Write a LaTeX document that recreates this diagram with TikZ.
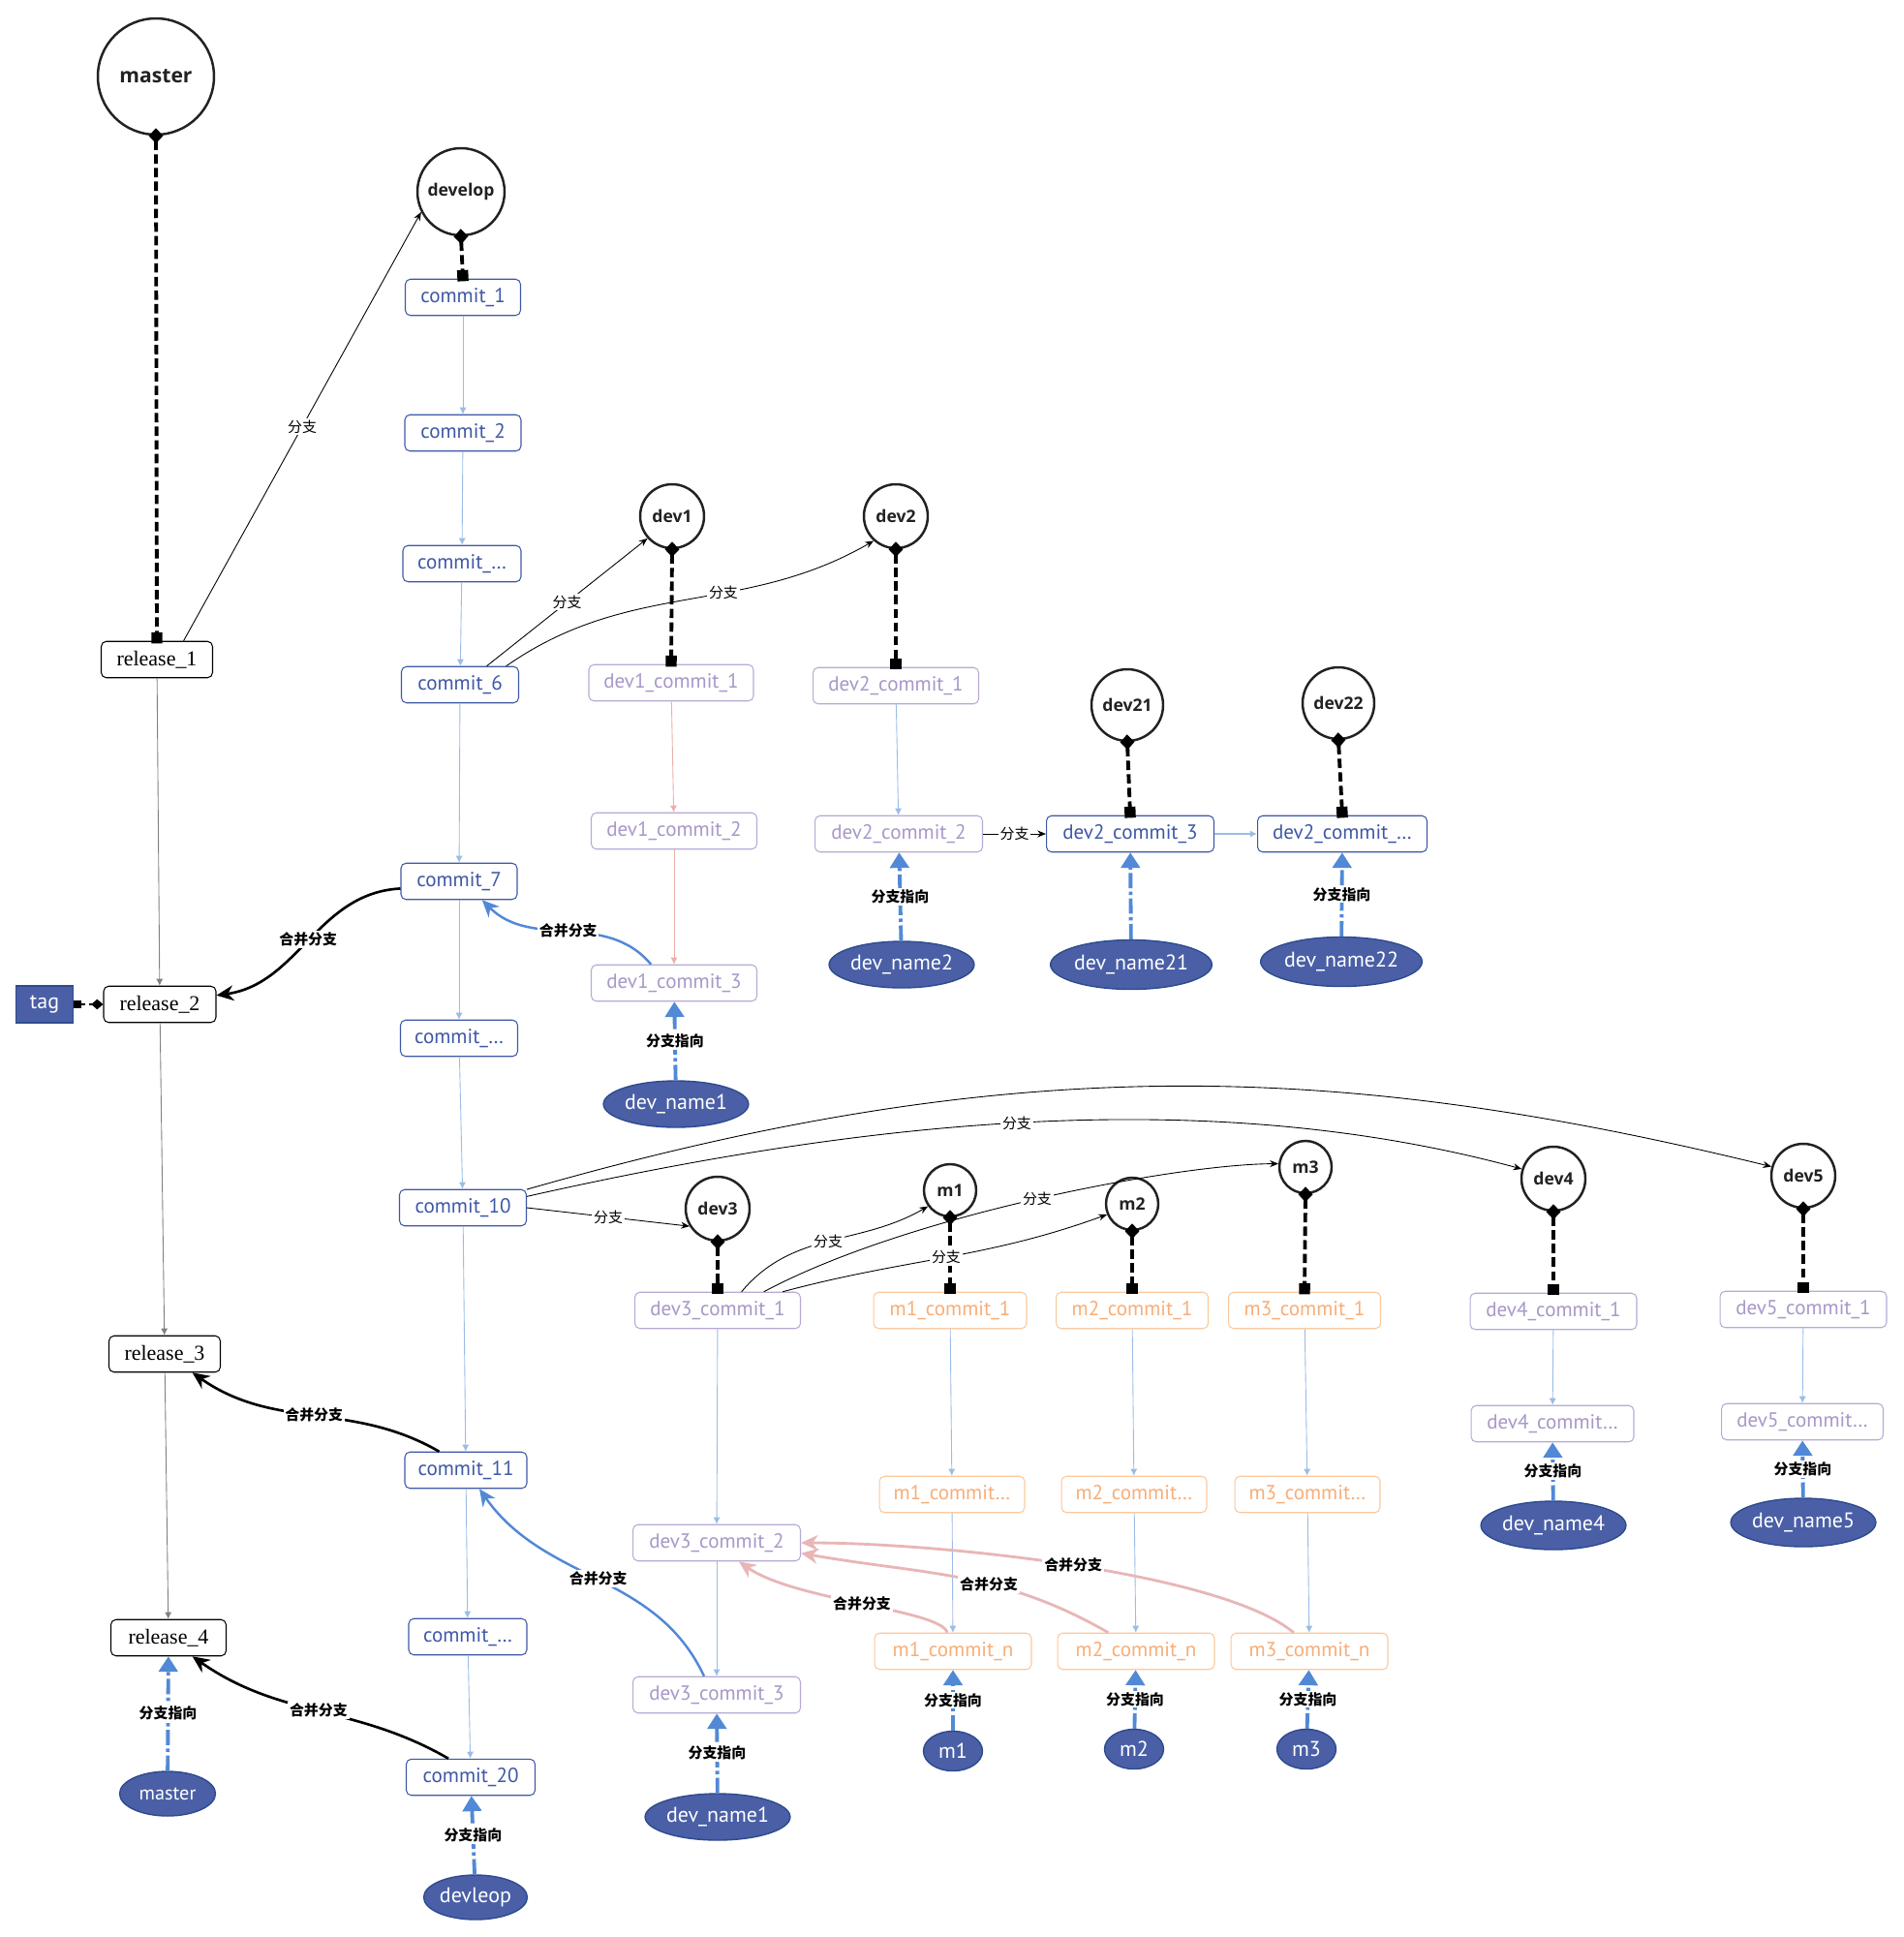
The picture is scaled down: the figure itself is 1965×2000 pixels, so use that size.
\documentclass[tikz,border=0pt]{standalone}
\usepackage{fontspec}
\setmainfont{PT Sans}
\newfontfamily\cjk{Noto Sans CJK SC}
\newfontfamily\circfont{Open Sans}
\newfontfamily\relfont{Liberation Serif}
\usetikzlibrary{arrows.meta,shapes.geometric,calc}
\definecolor{cblue}{HTML}{3F58A6}
\definecolor{lavb}{HTML}{B9A9D6}
\definecolor{lavt}{HTML}{A898C8}
\definecolor{orb}{HTML}{FDC89C}
\definecolor{ort}{HTML}{F7AE78}
\definecolor{navy}{HTML}{4A5FA6}
\definecolor{navyb}{HTML}{2E4B8F}
\definecolor{ptblue}{HTML}{5189D6}
\definecolor{chainb}{HTML}{9ABCE6}
\definecolor{chainp}{HTML}{EBAFA8}
\definecolor{pinkm}{HTML}{E8B6B6}
\definecolor{circ}{HTML}{222222}
\tikzset{
  brc/.style={circle, draw=circ, line width=1.4pt, fill=white, text=circ, inner sep=0pt,
    font=\circfont\bfseries\fontsize{10}{12}\selectfont},
  cbox/.style={rectangle, rounded corners=3pt, draw=cblue, line width=0.6pt, text=cblue, fill=white,
    minimum height=0.75cm, inner sep=0pt, font=\fontsize{12}{14}\selectfont},
  dvbox/.style={cbox, draw=lavb, text=lavt},
  mbox/.style={cbox, draw=orb, text=ort},
  relbox/.style={cbox, draw=black, text=black, font=\relfont\fontsize{12.5}{14}\selectfont},
  nmell/.style={ellipse, fill=navy, draw=navyb, line width=0.8pt, text=white, inner sep=0pt,
    font=\fontsize{12.5}{14}\selectfont},
  ptrk/.style={draw=black, line width=2.2pt, dash pattern=on 5.5pt off 2.5pt,
    {Diamond[length=9pt,width=8.5pt]}-{Square[length=6.5pt,width=6.5pt]}, shorten <=-4.5pt, shorten >=-1.5pt},
  ptrb/.style={draw=ptblue, line width=2.2pt, dash pattern=on 9pt off 2pt on 2pt off 2pt,
    -{Triangle[length=9pt,width=11pt]}},
  chainbl/.style={draw=chainb, line width=0.5pt, -{Latex[length=4pt,width=4pt]}},
  chainpk/.style={draw=chainp, line width=0.5pt, -{Latex[length=4pt,width=4pt]}},
  relc/.style={draw=gray, line width=0.5pt, -{Latex[length=4pt,width=4pt]}},
  thinb/.style={draw=black, line width=0.5pt, -{Stealth[length=5pt,width=4pt]}},
  mergek/.style={draw=black, line width=1.5pt, -{Stealth[length=10pt,width=9pt]}},
  mergeb/.style={draw=ptblue, line width=1.4pt, -{Stealth[length=10pt,width=9pt]}},
  mergep/.style={draw=pinkm, line width=1.6pt, -{Stealth[length=10pt,width=9pt]}},
  lbl/.style={font=\cjk\fontsize{8.5}{10}\selectfont, fill=white, inner sep=1pt, text=black},
  blbl/.style={font=\cjk\bfseries\fontsize{8.5}{10}\selectfont, fill=white, inner sep=1pt, text=black},
}
\begin{document}
\begin{tikzpicture}[x=0.02cm, y=-0.02cm]
\useasboundingbox[fill=white] (0,0) rectangle (1965,2000);

% branch circles
\node[brc, minimum size=2.4cm, font=\circfont\bfseries\fontsize{12}{14}\selectfont] (master) at (161,79) {master};
\node[brc, minimum size=1.8cm] (develop) at (476,198) {develop};
\node[brc, minimum size=1.32cm] (dev1) at (694,533) {dev1};
\node[brc, minimum size=1.32cm] (dev2) at (925,533) {dev2};
\node[brc, minimum size=1.48cm] (dev21) at (1164,728) {dev21};
\node[brc, minimum size=1.48cm] (dev22) at (1382,726) {dev22};
\node[brc, minimum size=1.32cm] (dev3) at (741,1248) {dev3};
\node[brc, minimum size=1.08cm] (m1) at (981,1229) {m1};
\node[brc, minimum size=1.08cm] (m2) at (1169,1243) {m2};
\node[brc, minimum size=1.08cm] (m3) at (1348,1205) {m3};
\node[brc, minimum size=1.32cm] (dev4) at (1604,1217) {dev4};
\node[brc, minimum size=1.32cm] (dev5) at (1862,1214) {dev5};

% release column
\node[relbox, minimum width=2.3cm] (r1) at (162,681) {release\_1};
\node[relbox, minimum width=2.32cm] (r2) at (165,1037) {release\_2};
\node[relbox, minimum width=2.3cm] (r3) at (170,1398) {release\_3};
\node[relbox, minimum width=2.38cm] (r4) at (174,1691) {release\_4};
\node[rectangle, fill=navy, draw=navyb, line width=0.6pt, text=white, minimum width=1.18cm, minimum height=0.76cm, inner sep=0pt, font=\fontsize{12.5}{14}\selectfont] (tag) at (46,1037) {tag};

% develop column
\node[cbox, minimum width=2.38cm] (c1) at (478,307) {commit\_1};
\node[cbox, minimum width=2.4cm] (c2) at (478,447) {commit\_2};
\node[cbox, minimum width=2.44cm] (c3) at (477,582) {commit\_…};
\node[cbox, minimum width=2.42cm] (c6) at (475,707) {commit\_6};
\node[cbox, minimum width=2.4cm] (c7) at (474,910) {commit\_7};
\node[cbox, minimum width=2.42cm] (c8) at (474,1072) {commit\_…};
\node[cbox, minimum width=2.62cm] (c10) at (478,1247) {commit\_10};
\node[cbox, minimum width=2.52cm] (c11) at (481,1518) {commit\_11};
\node[cbox, minimum width=2.44cm] (c12) at (483,1690) {commit\_…};
\node[cbox, minimum width=2.66cm] (c20) at (486,1835) {commit\_20};

% dev1 / dev2
\node[dvbox, minimum width=3.4cm] (d11) at (693,705) {dev1\_commit\_1};
\node[dvbox, minimum width=3.42cm] (d12) at (696,858) {dev1\_commit\_2};
\node[dvbox, minimum width=3.42cm] (d13) at (696,1015) {dev1\_commit\_3};
\node[dvbox, minimum width=3.42cm] (d21) at (925,708) {dev2\_commit\_1};
\node[dvbox, minimum width=3.46cm] (d22) at (928,861) {dev2\_commit\_2};
\node[cbox, minimum width=3.46cm] (d23) at (1167,861) {dev2\_commit\_3};
\node[cbox, minimum width=3.5cm] (d24) at (1386,861) {dev2\_commit\_…};

% dev3 / m / dev4 / dev5
\node[dvbox, minimum width=3.42cm] (d31) at (741,1353) {dev3\_commit\_1};
\node[dvbox, minimum width=3.46cm] (d32) at (740,1593) {dev3\_commit\_2};
\node[dvbox, minimum width=3.46cm] (d33) at (740,1750) {dev3\_commit\_3};
\node[mbox, minimum width=3.16cm] (m11) at (981,1353) {m1\_commit\_1};
\node[mbox, minimum width=3.14cm] (m21) at (1169,1353) {m2\_commit\_1};
\node[mbox, minimum width=3.14cm] (m31) at (1347,1353) {m3\_commit\_1};
\node[mbox, minimum width=3.0cm] (m12) at (983,1543) {m1\_commit…};
\node[mbox, minimum width=3.0cm] (m22) at (1171,1543) {m2\_commit…};
\node[mbox, minimum width=3.0cm] (m32) at (1350,1543) {m3\_commit…};
\node[mbox, minimum width=3.24cm] (m1n) at (984,1705) {m1\_commit\_n};
\node[mbox, minimum width=3.24cm] (m2n) at (1173,1705) {m2\_commit\_n};
\node[mbox, minimum width=3.24cm] (m3n) at (1352,1705) {m3\_commit\_n};
\node[dvbox, minimum width=3.44cm] (d41) at (1604,1354) {dev4\_commit\_1};
\node[dvbox, minimum width=3.44cm] (d51) at (1862,1352) {dev5\_commit\_1};
\node[dvbox, minimum width=3.36cm] (d42) at (1603,1470) {dev4\_commit…};
\node[dvbox, minimum width=3.34cm] (d52) at (1861,1468) {dev5\_commit…};

% name ellipses
\node[nmell, minimum width=2.86cm, minimum height=0.96cm] (nm2) at (931,996) {dev\_name2};
\node[nmell, minimum width=3.12cm, minimum height=1.02cm] (nm21) at (1168,996) {dev\_name21};
\node[nmell, minimum width=3.12cm, minimum height=1.02cm] (nm22) at (1385,993) {dev\_name22};
\node[nmell, minimum width=2.86cm, minimum height=0.96cm] (nm1a) at (698,1140) {dev\_name1};
\node[nmell, minimum width=2.86cm, minimum height=1.0cm] (nm4) at (1604,1575) {dev\_name4};
\node[nmell, minimum width=2.86cm, minimum height=1.0cm] (nm5) at (1862,1572) {dev\_name5};
\node[nmell, minimum width=1.98cm, minimum height=0.92cm, font=\fontsize{11.5}{13}\selectfont] (nmaster) at (173,1852) {master};
\node[nmell, minimum width=2.14cm, minimum height=0.92cm] (ndevleop) at (491,1959) {devleop};
\node[nmell, minimum width=2.86cm, minimum height=0.96cm] (nm1b) at (741,1876) {dev\_name1};
\node[nmell, minimum width=1.22cm, minimum height=0.82cm] (nmm1) at (984,1808) {m1};
\node[nmell, minimum width=1.22cm, minimum height=0.82cm] (nmm2) at (1171,1806) {m2};
\node[nmell, minimum width=1.22cm, minimum height=0.82cm] (nmm3) at (1349,1806) {m3};

% branch pointers (black dashed)
\draw[ptrk] (master.south) -- (r1.north);
\draw[ptrk] (develop.south) -- (c1.north);
\draw[ptrk] (dev1.south) -- (d11.north);
\draw[ptrk] (dev2.south) -- (d21.north);
\draw[ptrk] (dev21.south) -- (d23.north);
\draw[ptrk] (dev22.south) -- (d24.north);
\draw[ptrk] (dev3.south) -- (d31.north);
\draw[ptrk] (m1.south) -- (m11.north);
\draw[ptrk] (m2.south) -- (m21.north);
\draw[ptrk] (m3.south) -- (m31.north);
\draw[ptrk] (dev4.south) -- (d41.north);
\draw[ptrk] (dev5.south) -- (d51.north);
\draw[draw=black, line width=1.2pt, dash pattern=on 3pt off 2pt, {Square[length=4.5pt,width=4.5pt]}-{Diamond[length=7pt,width=6pt]}] (tag.east) -- (r2.west);

% chains
\draw[relc] (r1) -- (r2);
\draw[relc] (r2) -- (r3);
\draw[relc] (r3) -- (r4);
\draw[chainbl] (c1) -- (c2);
\draw[chainbl] (c2) -- (c3);
\draw[chainbl] (c3) -- (c6);
\draw[chainbl] (c6) -- (c7);
\draw[chainbl] (c7) -- (c8);
\draw[chainbl] (c8) -- (c10);
\draw[chainbl] (c10) -- (c11);
\draw[chainbl] (c11) -- (c12);
\draw[chainbl] (c12) -- (c20);
\draw[chainpk] (d11) -- (d12);
\draw[chainpk] (d12) -- (d13);
\draw[chainbl] (d21) -- (d22);
\draw[chainbl, line width=0.9pt] (d23) -- (d24);
\draw[chainbl] (d31) -- (d32);
\draw[chainbl] (d32) -- (d33);
\draw[chainbl] (m11) -- (m12);
\draw[chainbl] (m12) -- (m1n);
\draw[chainbl] (m21) -- (m22);
\draw[chainbl] (m22) -- (m2n);
\draw[chainbl] (m31) -- (m32);
\draw[chainbl] (m32) -- (m3n);
\draw[chainbl] (d41) -- (d42);
\draw[chainbl] (d51) -- (d52);

% branching edges
\draw[thinb] (r1.35) -- node[lbl]{分支} (develop.207);
\draw[thinb] (c6.35) -- node[lbl]{分支} (dev1.222);
\draw[thinb] (c6.22) to[out=35,in=210] node[lbl,pos=0.6]{分支} (dev2.228);
\draw[thinb] (d22) -- node[lbl]{分支} (d23);
\draw[thinb] (c10.east) -- node[lbl]{分支} (dev3.212);
\draw[thinb] (c10.10) .. controls (900,1155) and (1250,1120) .. (dev4.163) node[lbl,pos=0.48]{分支};
\draw[thinb] (c10.16) .. controls (1043,1085) and (1381,1095) .. (dev5.164);
\draw[thinb] (d31.38) to[out=50,in=210] node[lbl]{分支} (m1.216);
\draw[thinb] (d31.22) .. controls (938,1254) and (1215,1202) .. (m3.173) node[lbl,pos=0.5]{分支};
\draw[thinb] (d31.16) to[out=15,in=200] node[lbl]{分支} (m2.203);

% merges
\draw[mergek] (c7.187) to[out=183,in=8] node[blbl]{合并分支} (r2.9);
\draw[mergeb] (d13.141) to[out=130,in=-45] node[blbl]{合并分支} (c7.321);
\draw[mergek] (c11.145) to[out=150,in=-35] node[blbl]{合并分支} (r3.326);
\draw[mergek] (c20.140) to[out=150,in=-35] node[blbl]{合并分支} (r4.322);
\draw[mergeb] (d33.124) to[out=115,in=-55] node[blbl]{合并分支} (c11.306);
\draw[mergep] (m1n.107) .. controls (972,1662) and (821,1653) .. (d32.320) node[blbl,pos=0.5]{合并分支};
\draw[mergep] (m2n.146) to[out=150,in=-10] node[blbl,pos=0.4]{合并分支} (d32.353);
\draw[mergep] (m3n.130) .. controls (1262,1624) and (972,1593) .. (d32.east) node[blbl,pos=0.5]{合并分支};

% name pointers (blue dashed)
\draw[ptrb] (nm2) -- node[blbl]{分支指向} (d22);
\draw[ptrb] (nm21) -- (d23);
\draw[ptrb] (nm22) -- node[blbl]{分支指向} (d24);
\draw[ptrb] (nm1a) -- node[blbl]{分支指向} (d13);
\draw[ptrb] (nm4) -- node[blbl]{分支指向} (d42);
\draw[ptrb] (nm5) -- node[blbl]{分支指向} (d52);
\draw[ptrb] (nmm1) -- node[blbl]{分支指向} (m1n);
\draw[ptrb] (nmm2) -- node[blbl]{分支指向} (m2n);
\draw[ptrb] (nmm3) -- node[blbl]{分支指向} (m3n);
\draw[ptrb] (nm1b) -- node[blbl]{分支指向} (d33);
\draw[ptrb] (nmaster) -- node[blbl]{分支指向} (r4);
\draw[ptrb] (ndevleop) -- node[blbl]{分支指向} (c20);
\end{tikzpicture}
\end{document}
